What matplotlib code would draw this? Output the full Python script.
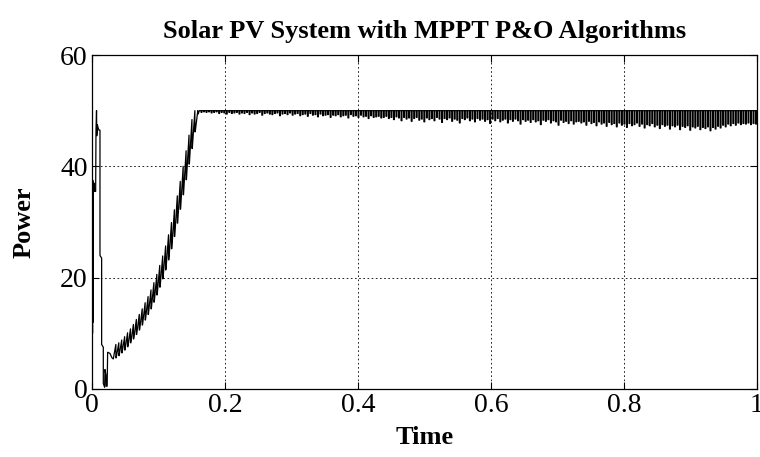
import numpy as np
import matplotlib
matplotlib.use("Agg")
import matplotlib.pyplot as plt

plt.rcParams['font.family'] = ['Liberation Serif', 'DejaVu Serif']

# ---- data ----
# initial transient (time, power)
trans_t = [0.0, 0.0004, 0.0008, 0.0012, 0.0016, 0.002, 0.003, 0.004, 0.0055,
           0.0060, 0.0068, 0.0072, 0.0080, 0.0090, 0.0105, 0.0120, 0.0120,
           0.0145, 0.0145, 0.0170, 0.0170, 0.0190, 0.0195, 0.0210, 0.0212,
           0.0228, 0.0235, 0.0270, 0.0300]
trans_p = [9.3, 37.0, 10.0, 37.5, 12.0, 35.0, 37.0, 35.5, 35.5,
           46.5, 50.0, 45.5, 47.5, 47.0, 46.5, 46.5, 24.0,
           23.5, 8.0, 7.5, 1.0, 0.3, 3.5, 2.5, 0.5,
           0.5, 6.6, 6.4, 5.6]

# rising sawtooth: tooth times, trough values and peak values
rise_t = [0.0320, 0.0364, 0.0408, 0.0452, 0.0496, 0.0540, 0.0584, 0.0628,
          0.0672, 0.0716, 0.0760, 0.0804, 0.0848, 0.0892, 0.0936, 0.0980,
          0.1024, 0.1068, 0.1112, 0.1156, 0.1200, 0.1244, 0.1288, 0.1332,
          0.1376, 0.1420, 0.1464, 0.1508, 0.1552, 0.1596]
rise_low = [5.4, 5.6, 6.0, 6.5, 7.0, 7.6, 8.3, 9.0, 9.8, 10.6, 11.5, 12.4,
            13.4, 14.4, 15.6, 16.9, 18.3, 19.8, 21.4, 23.2, 25.2, 27.4,
            29.8, 32.3, 34.9, 37.6, 40.4, 43.2, 46.2, 49.4]
rise_high = [8.0, 8.3, 8.8, 9.4, 10.1, 10.8, 11.6, 12.5, 13.4, 14.4, 15.5, 16.6,
             17.8, 19.1, 20.6, 22.2, 23.9, 25.7, 27.7, 29.9, 32.2, 34.7,
             37.3, 40.0, 42.8, 45.6, 48.4, 50.0, 50.0, 50.0]

# steady state: level and depth of each downward spike
steady_level = 50.0
steady_start, steady_end = 0.164, 0.998
spike_depth = [
    0.3, 0.2, 0.3, 0.2, 0.4, 0.3, 0.2, 0.5, 0.3, 0.4,
    0.6, 0.3, 0.5, 0.4, 0.3, 0.6, 0.4, 0.5, 0.3, 0.7,
    0.4, 0.6, 0.5, 0.3, 0.8, 0.5, 0.4, 0.6, 0.7, 0.5,
    0.4, 0.9, 0.6, 0.5, 0.7, 0.4, 0.8, 0.6, 0.5, 0.9,
    0.7, 0.6, 1.0, 0.5, 0.8, 0.7, 1.1, 0.6, 0.9, 0.8,
    0.7, 1.2, 0.8, 0.9, 0.7, 1.1, 0.9, 0.8, 1.3, 0.7,
    1.0, 0.9, 1.2, 0.8, 1.1, 1.0, 1.4, 0.9, 1.2, 1.1,
    1.0, 1.3, 1.2,
    1.0, 1.4, 1.2, 1.6, 1.1, 1.3, 1.8, 1.2, 1.5, 1.3,
    1.9, 1.4, 1.2, 1.7, 1.5, 2.0, 1.3, 1.6, 1.4, 1.8,
    1.2, 1.5, 2.1, 1.4, 1.6, 1.3, 1.9, 1.5, 1.7, 2.2,
    1.4, 1.6, 1.3, 1.8, 1.5, 2.0, 1.4, 1.7, 1.5, 1.9,
    1.6, 2.3, 1.5, 1.8, 1.4, 2.0, 1.7, 1.5, 2.2, 1.6,
    1.9, 1.5, 1.8, 2.4, 1.6, 1.9, 1.7, 2.1, 1.6, 2.0,
    1.8, 2.5, 1.7, 1.9, 1.6, 2.2, 1.8, 2.0, 2.6, 1.7,
    2.1, 1.9, 2.3, 1.8, 2.4, 2.0,
    1.9, 2.2, 2.0, 2.6, 1.9, 2.3, 2.1, 2.7, 2.0, 2.4,
    2.2, 2.8, 2.1, 2.5, 2.3, 2.9, 2.2, 2.6, 2.4, 3.0,
    2.3, 2.7, 2.5, 2.2, 2.8, 2.4, 3.1, 2.5, 2.7, 2.3,
    2.9, 2.6, 3.2, 2.5, 2.8, 2.6, 3.3, 2.7, 2.9, 2.6,
    3.4, 2.8, 3.0, 2.7, 3.5, 2.9, 3.1, 2.8, 3.4, 3.0,
    3.2, 2.9, 3.6, 3.0, 3.3, 2.8, 3.1, 2.6, 2.9, 2.4,
    2.7, 2.3, 2.6, 2.2, 2.5, 2.3, 2.4, 2.2, 2.5, 2.3, 2.4,
]

x_ticks = [0, 0.2, 0.4, 0.6, 0.8, 1]
x_ticklabels = ['0', '0.2', '0.4', '0.6', '0.8', '1']
y_ticks = [0, 20, 40, 60]
title = 'Solar PV System with MPPT P&O Algorithms'
xlabel = 'Time'
ylabel = 'Power'

# ---- build the trace ----
t_all = list(trans_t)
p_all = list(trans_p)
for i in range(len(rise_t) - 1):
    t_all += [rise_t[i], rise_t[i + 1] - 0.0005, rise_t[i + 1] - 0.0005]
    p_all += [rise_low[i], rise_high[i], rise_low[i + 1]]
t_all += [rise_t[-1], 0.1615]
p_all += [rise_low[-1], steady_level]

spike_t = np.linspace(steady_start, steady_end, len(spike_depth))
w = 0.0012
for st, d in zip(spike_t, spike_depth):
    t_all += [st, st, st + w, st + w]
    p_all += [steady_level, steady_level - d, steady_level - d, steady_level]
t_all.append(1.0)
p_all.append(steady_level)

fig = plt.figure(figsize=(7.6, 4.57), dpi=100)
ax = fig.add_axes([92 / 760, 68 / 457, 665 / 760, 334 / 457])
ax.plot(t_all, p_all, color='black', lw=0.9)

ax.set_xlim(0, 1)
ax.set_ylim(0, 60)
ax.set_xticks(x_ticks)
ax.set_xticklabels(x_ticklabels)
ax.set_yticks(y_ticks)
ax.grid(True, color='black', linestyle=(0, (2, 3)), lw=0.6)
ax.tick_params(direction='in', top=True, right=True, length=5, width=0.8,
               labelsize=20, pad=3)
for s in ax.spines.values():
    s.set_linewidth(0.9)
ax.set_title(title, fontsize=19, fontweight='bold', pad=12)
ax.set_xlabel(xlabel, fontsize=19, fontweight='bold', labelpad=6)
ax.set_ylabel(ylabel, fontsize=19, fontweight='bold', labelpad=18)

fig.savefig('out.png', dpi=100)
